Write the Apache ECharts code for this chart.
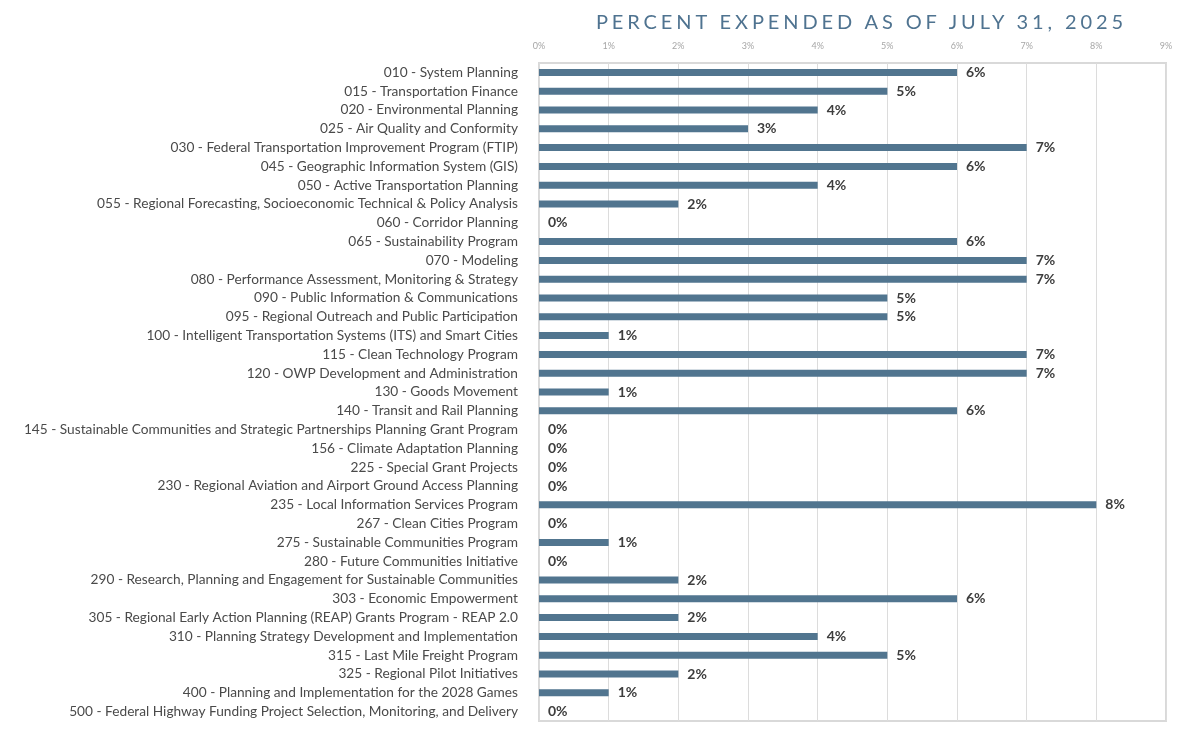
<!DOCTYPE html>
<html>
<head>
<meta charset="utf-8">
<script src="https://cdn.jsdelivr.net/npm/echarts@6/dist/echarts.min.js"></script>
<style>
html,body{margin:0;padding:0;background:#fff;}
#wrap{position:relative;width:1200px;height:750px;}
#chart{position:absolute;left:0;top:0;width:1200px;height:750px;}
#title{position:absolute;left:539px;width:645px;top:9px;text-align:center;font-family:Lato,"Open Sans",sans-serif;font-size:20px;letter-spacing:3.9px;color:#4f7390;white-space:nowrap;}
</style>
</head>
<body>
<div id="wrap">
<div id="chart"></div>
<div id="title">PERCENT EXPENDED AS OF JULY 31, 2025</div>
</div>
<script>
const categories = [
  "010 - System Planning",
  "015 - Transportation Finance",
  "020 - Environmental Planning",
  "025 - Air Quality and Conformity",
  "030 - Federal Transportation Improvement Program (FTIP)",
  "045 - Geographic Information System (GIS)",
  "050 - Active Transportation Planning",
  "055 - Regional Forecasting, Socioeconomic Technical & Policy Analysis",
  "060 - Corridor Planning",
  "065 - Sustainability Program",
  "070 - Modeling",
  "080 - Performance Assessment, Monitoring & Strategy",
  "090 - Public Information & Communications",
  "095 - Regional Outreach and Public Participation",
  "100 - Intelligent Transportation Systems (ITS) and Smart Cities",
  "115 - Clean Technology Program",
  "120 - OWP Development and Administration",
  "130 - Goods Movement",
  "140 - Transit and Rail Planning",
  "145 - Sustainable Communities and Strategic Partnerships Planning Grant Program",
  "156 - Climate Adaptation Planning",
  "225 - Special Grant Projects",
  "230 - Regional Aviation and Airport Ground Access Planning",
  "235 - Local Information Services Program",
  "267 - Clean Cities Program",
  "275 - Sustainable Communities Program",
  "280 - Future Communities Initiative",
  "290 - Research, Planning and Engagement for Sustainable Communities",
  "303 - Economic Empowerment",
  "305 - Regional Early Action Planning (REAP) Grants Program - REAP 2.0",
  "310 - Planning Strategy Development and Implementation",
  "315 - Last Mile Freight Program",
  "325 - Regional Pilot Initiatives",
  "400 - Planning and Implementation for the 2028 Games",
  "500 - Federal Highway Funding Project Selection, Monitoring, and Delivery"
];
const percentExpended = [6,5,4,3,7,6,4,2,0,6,7,7,5,5,1,7,7,1,6,0,0,0,0,8,0,1,0,2,6,2,4,5,2,1,0];
const axisMin = 0, axisMax = 9, axisStep = 1;

const chart = echarts.init(document.getElementById('chart'), null, {renderer:'canvas'});
chart.setOption({
  animation:false,
  textStyle:{fontFamily:'Lato, "Open Sans", sans-serif'},
  grid:{left:539,right:34,top:63,bottom:29,show:true,borderColor:'#d9d9d9',borderWidth:2,containLabel:false},
  xAxis:{
    type:'value',position:'top',min:axisMin,max:axisMax,interval:axisStep,
    axisLine:{show:false},axisTick:{show:false},
    axisLabel:{formatter:'{value}%',color:'#a6a6a6',fontSize:9,margin:12},
    splitLine:{show:true,lineStyle:{color:'#dcdcdc',width:1}}
  },
  yAxis:{
    type:'category',data:categories,inverse:true,
    axisLine:{show:false},axisTick:{show:false},
    axisLabel:{color:'#4a4a4a',fontSize:13.7,margin:21,interval:0},
    splitLine:{show:false}
  },
  series:[{
    type:'bar',data:percentExpended,barWidth:7,
    itemStyle:{color:'#51758f'},
    label:{show:true,position:'right',distance:9,formatter:'{c}%',color:'#3d3d3d',fontSize:14,fontWeight:'bold'}
  }]
});
</script>
</body>
</html>
